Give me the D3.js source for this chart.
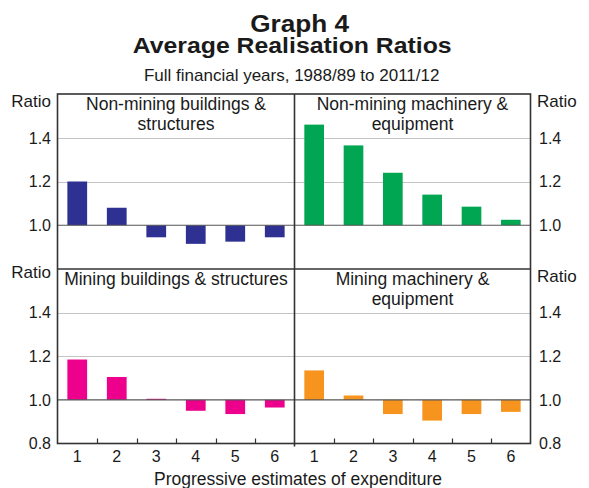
<!DOCTYPE html>
<html><head><meta charset="utf-8">
<script src="https://cdn.jsdelivr.net/npm/d3@7"></script>
<style>body{margin:0;background:#fff}svg{display:block;font-family:"Liberation Sans",Arial,sans-serif}</style>
</head><body>
<script>
const categories = ["1","2","3","4","5","6"];
const nonMiningBuildings = [1.20, 1.08, 0.945, 0.915, 0.925, 0.945];
const nonMiningMachinery = [1.46, 1.365, 1.24, 1.14, 1.085, 1.025];
const miningBuildings = [1.185, 1.105, 1.005, 0.95, 0.935, 0.965];
const miningMachinery = [1.135, 1.02, 0.935, 0.905, 0.935, 0.945];
const yTicksTop = [1.0, 1.2, 1.4];
const yTicksBottom = [0.8, 1.0, 1.2, 1.4];
const panelTitles = [["Non-mining buildings &","structures"],["Non-mining machinery &","equipment"],["Mining buildings & structures"],["Mining machinery &","equipment"]];
const colors = ["#2e3192","#00a651","#ec008c","#f7941d"];

const W=589,H=488;
const L=57.5, M=294.5, R=530.5, T=94, MY=269, B=443.5;
const svg=d3.select("body").append("svg").attr("width",W).attr("height",H);
const txt="#1a1a1a";

// titles
svg.append("text").attr("x",299.7).attr("y",31.7).attr("text-anchor","middle").attr("font-weight","bold").attr("font-size",23.5)
  .attr("textLength",99).attr("lengthAdjust","spacingAndGlyphs").attr("fill",txt).text("Graph 4");
svg.append("text").attr("x",292.2).attr("y",53.3).attr("text-anchor","middle").attr("font-weight","bold").attr("font-size",22.5)
  .attr("textLength",319).attr("lengthAdjust","spacingAndGlyphs").attr("fill",txt).text("Average Realisation Ratios");
svg.append("text").attr("x",291.7).attr("y",81).attr("text-anchor","middle").attr("font-size",17).attr("fill",txt).text("Full financial years, 1988/89 to 2011/12");

const panels=[
 {data:nonMiningBuildings,x0:L,x1:M,y0:T,y1:MY},
 {data:nonMiningMachinery,x0:M,x1:R,y0:T,y1:MY},
 {data:miningBuildings,x0:L,x1:M,y0:MY,y1:B},
 {data:miningMachinery,x0:M,x1:R,y0:MY,y1:B}
];

panels.forEach((p,i)=>{
  const x=d3.scaleBand().domain(categories).range([p.x0,p.x1]).paddingInner(0.5).paddingOuter(0.25);
  const y=d3.scaleLinear().domain([0.8,1.6]).range([p.y1,p.y0]);
  p.x=x;p.y=y;
  const g=svg.append("g");
  // gridlines
  g.selectAll("line.grid").data([1.2,1.4]).join("line")
    .attr("x1",p.x0).attr("x2",p.x1).attr("y1",d=>Math.round(y(d))+0.5).attr("y2",d=>Math.round(y(d))+0.5)
    .attr("stroke","#c4c4c4").attr("stroke-width",1);
  // bars
  g.selectAll("rect").data(p.data).join("rect")
    .attr("x",(d,j)=>x(categories[j])).attr("width",x.bandwidth())
    .attr("y",d=>Math.min(y(d),y(1))).attr("height",d=>Math.abs(y(d)-y(1)))
    .attr("fill",colors[i]);
  // zero line
  g.append("line").attr("x1",p.x0).attr("x2",p.x1).attr("y1",y(1)).attr("y2",y(1))
    .attr("stroke","#555").attr("stroke-width",1.2);
  // title
  const t=g.append("text").attr("text-anchor","middle").attr("font-size",17.5).attr("fill",txt);
  const cx=(p.x0+p.x1)/2;
  panelTitles[i].forEach((s,k)=>{
    t.append("tspan").attr("x",cx).attr("y",p.y0+16+k*19.5).text(s);
  });
});

// y axes tick labels
const yT=panels[0].y, yB=panels[2].y;
function yLabels(scale,ticks,xpos,anchor){
  svg.append("g").selectAll("text").data(ticks).join("text")
    .attr("x",xpos).attr("y",d=>scale(d)).attr("dy","0.36em")
    .attr("text-anchor",anchor).attr("font-size",16).attr("fill",txt)
    .text(d3.format(".1f"));
}
yLabels(yT,yTicksTop,51,"end");
yLabels(yT,yTicksTop,539,"start");
yLabels(yB,yTicksBottom,51,"end");
yLabels(yB,yTicksBottom,539,"start");
svg.append("text").attr("x",51).attr("y",107).attr("text-anchor","end").attr("font-size",17).attr("fill",txt).text("Ratio");
svg.append("text").attr("x",537).attr("y",107).attr("font-size",17).attr("fill",txt).text("Ratio");
svg.append("text").attr("x",51).attr("y",278).attr("text-anchor","end").attr("font-size",17).attr("fill",txt).text("Ratio");
svg.append("text").attr("x",537).attr("y",282).attr("font-size",17).attr("fill",txt).text("Ratio");

// x axes
[panels[2],panels[3]].forEach(p=>{
  const ax=d3.axisBottom(p.x).tickSize(0).tickPadding(0);
  const g=svg.append("g").attr("transform",`translate(0,${B})`).call(ax);
  g.select(".domain").remove();
  g.selectAll("text").attr("font-size",16).attr("fill",txt).attr("font-family","Liberation Sans, Arial, sans-serif").attr("dy",null).attr("y",18.5);
  // inner ticks at band boundaries
  const bounds=categories.slice(1).map(c=>p.x(c)-p.x.bandwidth()*0.5);
  svg.append("g").selectAll("line").data(bounds).join("line")
    .attr("x1",d=>Math.round(d)+0.5).attr("x2",d=>Math.round(d)+0.5).attr("y1",B-5).attr("y2",B)
    .attr("stroke","#333").attr("stroke-width",1.2);
});
svg.append("text").attr("x",298).attr("y",485).attr("text-anchor","middle").attr("font-size",17.5).attr("fill",txt).text("Progressive estimates of expenditure");

// frame
const fr=svg.append("g").attr("fill","none").attr("stroke","#333").attr("stroke-width",1.6);
fr.append("rect").attr("x",L).attr("y",T).attr("width",R-L).attr("height",B-T);
fr.append("line").attr("x1",M).attr("x2",M).attr("y1",T).attr("y2",B+3);
fr.append("line").attr("x1",L).attr("x2",R).attr("y1",MY).attr("y2",MY);
</script>
</body></html>
